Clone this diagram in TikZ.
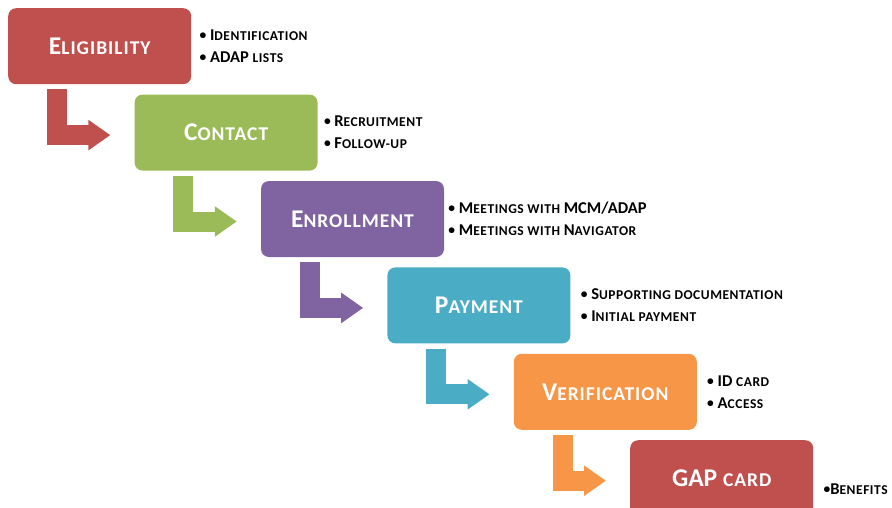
\documentclass[tikz,border=0pt]{standalone}
\usepackage{fontspec}
\setmainfont{Carlito}
\usetikzlibrary{
    arrows.meta,
    positioning,
    calc
}

\definecolor{stepred}{HTML}{C0504D}
\definecolor{stepgreen}{HTML}{9BBB59}
\definecolor{steppurple}{HTML}{8064A2}
\definecolor{stepteal}{HTML}{4BACC6}
\definecolor{steporange}{HTML}{F79646}

% small capitals, faked with smaller, slightly spaced capitals
\newcommand\lblsc[1]{{\fontsize{19.5}{24}\selectfont\addfontfeature{LetterSpace=5}#1}}
\newcommand\itemsc[1]{{\fontsize{13.5}{16}\selectfont\addfontfeature{LetterSpace=4}#1}}
\newcommand\dotmark{{\fontsize{13.5}{16}\selectfont\raisebox{1pt}{\textbullet}}}

\begin{document}
\begin{tikzpicture}[
        x=1pt, y=1pt,
        node distance=10pt and -57pt,
        stage/.style={
            rectangle,
            rounded corners=8pt,
            minimum width=183pt,
            minimum height=76pt,
            inner sep=0pt,
            text=white,
            font=\bfseries\fontsize{25.5}{28}\selectfont
        },
        notes/.style={
            anchor=west,
            inner sep=0pt,
            align=left,
            font=\bfseries\fontsize{16.5}{22}\selectfont
        },
        flow/.style={
            line width=20pt,
            -{Triangle[length=22pt,width=29pt]},
            shorten >=24pt
        }
    ]
        \useasboundingbox (0,0) rectangle (892,-507);

        % Stages, stepping down to the right
        \node[stage, fill=stepred, anchor=north west] (elig) at (8,-8)
            {E\lblsc{LIGIBILITY}};
        \node[stage, fill=stepgreen, below right=of elig] (contact)
            {C\lblsc{ONTACT}};
        \node[stage, fill=steppurple, below right=of contact] (enroll)
            {E\lblsc{NROLLMENT}};
        \node[stage, fill=stepteal, below right=of enroll] (payment)
            {P\lblsc{AYMENT}};
        \node[stage, fill=steporange, below right=of payment] (verify)
            {V\lblsc{ERIFICATION}};
        \node[stage, fill=stepred, below right=10pt and -67pt of verify] (gapcard)
            {GAP \lblsc{CARD}};

        % Bent arrows between stages
        \draw[flow, draw=stepred] ($(elig.south west)+(49,-5)$)
            |- ($(contact.west)+(0,-2.5)$);
        \draw[flow, draw=stepgreen] ($(contact.south west)+(49,-5)$)
            |- ($(enroll.west)+(0,-2.5)$);
        \draw[flow, draw=steppurple] ($(enroll.south west)+(49,-5)$)
            |- ($(payment.west)+(0,-2.5)$);
        \draw[flow, draw=stepteal] ($(payment.south west)+(49,-5)$)
            |- ($(verify.west)+(0,-2.5)$);
        \draw[flow, draw=steporange] ($(verify.south west)+(49,-5)$)
            |- ($(gapcard.west)+(0,-2.5)$);

        % Notes beside each stage
        \node[notes] (elignotes) at ($(elig.east)+(8,0)$)
            {\dotmark~I\itemsc{DENTIFICATION}\\\dotmark~ADAP \itemsc{LISTS}};
        \node[notes] (contactnotes) at ($(contact.east)+(6,0)$)
            {\dotmark~R\itemsc{ECRUITMENT}\\\dotmark~F\itemsc{OLLOW-UP}};
        \node[notes] (enrollnotes) at ($(enroll.east)+(4,0)$)
            {\dotmark~M\itemsc{EETINGS WITH} MCM/ADAP\\\dotmark~M\itemsc{EETINGS WITH} N\itemsc{AVIGATOR}};
        \node[notes] (paymentnotes) at ($(payment.east)+(10,0)$)
            {\dotmark~S\itemsc{UPPORTING DOCUMENTATION}\\\dotmark~I\itemsc{NITIAL PAYMENT}};
        \node[notes] (verifynotes) at ($(verify.east)+(10,0)$)
            {\dotmark~ID \itemsc{CARD}\\\dotmark~A\itemsc{CCESS}};
        \node[notes] (gapnotes) at ($(gapcard.east)+(10,-11)$)
            {\dotmark B\itemsc{ENEFITS}};
    \end{tikzpicture}
\end{document}
